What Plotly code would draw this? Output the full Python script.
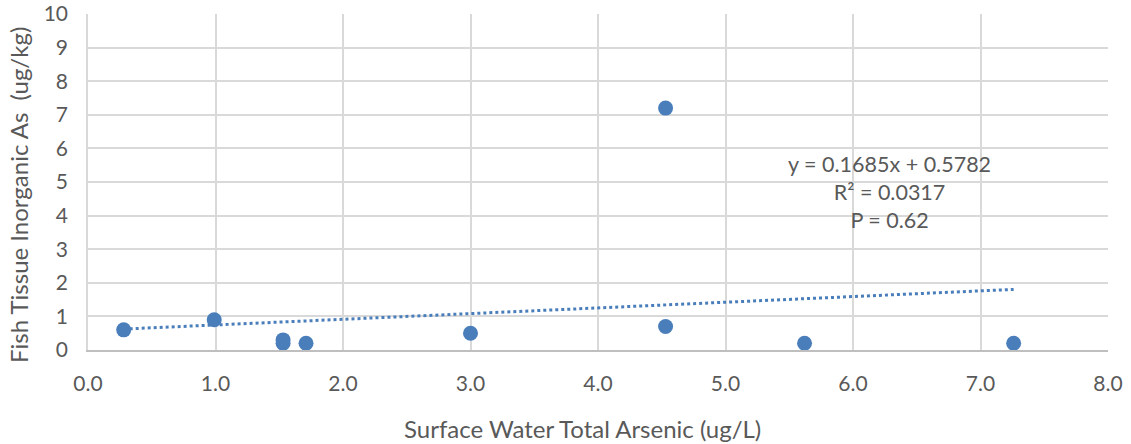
import numpy as np
import plotly.graph_objects as go

water_as = [0.28, 0.99, 1.53, 1.53, 1.71, 3.00, 4.53, 4.53, 5.62, 7.26]
fish_as = [0.6, 0.9, 0.3, 0.2, 0.2, 0.5, 0.7, 7.2, 0.2, 0.2]
x_ticks = [0, 1, 2, 3, 4, 5, 6, 7, 8]
x_tick_labels = ["0.0", "1.0", "2.0", "3.0", "4.0", "5.0", "6.0", "7.0", "8.0"]
y_ticks = list(range(0, 11))
eq_lines = ["y = 0.1685x + 0.5782", "R² = 0.0317", "P = 0.62"]
x_title = "Surface Water Total Arsenic (ug/L)"
y_title = "Fish Tissue Inorganic As  (ug/kg)"

blue = "#4A7EBB"
gray_text = "#595959"
font = "Lato, Open Sans, sans-serif"

slope, intercept = np.polyfit(water_as, fish_as, 1)
tx = np.array([min(water_as), max(water_as)])
ty = slope * tx + intercept

W, H = 1131, 444
L, R, T, B = 88, 23, 14, 94

def px(xs):
    return (xs - L) / (W - L - R)

def py(ys):
    return (H - B - ys) / (H - T - B)

fig = go.Figure()
fig.add_trace(go.Scatter(x=tx, y=ty, mode="lines",
                         line=dict(color=blue, width=3, dash="dot"),
                         hoverinfo="skip", showlegend=False))
fig.add_trace(go.Scatter(x=water_as, y=fish_as, mode="markers",
                         marker=dict(color=blue, size=15),
                         showlegend=False))

fig.add_annotation(x=6.29, y=4.7, xref="x", yref="y",
                   text="<br>".join(eq_lines), showarrow=False,
                   align="center", font=dict(family=font, size=21.5, color=gray_text))

fig.add_annotation(x=px(582), y=py(428), xref="paper", yref="paper",
                   text=x_title, showarrow=False,
                   xanchor="center", yanchor="middle",
                   font=dict(family=font, size=24, color=gray_text))
fig.add_annotation(x=px(18), y=py(195), xref="paper", yref="paper",
                   text=y_title, showarrow=False,
                   textangle=-90, xanchor="center", yanchor="middle",
                   font=dict(family=font, size=24, color=gray_text))

fig.update_layout(
    width=W, height=H,
    margin=dict(l=L, r=R, t=T, b=B, autoexpand=False),
    plot_bgcolor="white", paper_bgcolor="white",
    font=dict(family=font, color=gray_text),
    xaxis=dict(range=[0, 8], tickvals=x_ticks, ticktext=x_tick_labels,
               showgrid=True, gridcolor="#D9D9D9", gridwidth=1.5,
               zeroline=False, showline=True, linecolor="#BFBFBF", linewidth=2,
               tickfont=dict(size=21, color=gray_text), ticks="",
               ticklabelstandoff=14, automargin=False),
    yaxis=dict(range=[0, 10], tickvals=y_ticks,
               showgrid=True, gridcolor="#D9D9D9", gridwidth=1.5,
               zeroline=False, showline=True, linecolor="#D9D9D9", linewidth=1.5,
               tickfont=dict(size=21, color=gray_text), ticks="",
               ticklabelstandoff=14, automargin=False),
)

fig.write_html("out.html", config={"displayModeBar": False},
               post_script="document.body.style.margin='0';document.body.style.overflow='hidden';")
